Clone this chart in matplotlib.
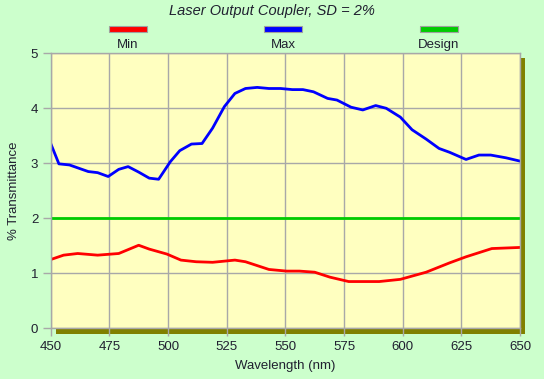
import matplotlib.pyplot as plt
from matplotlib.patches import Rectangle

# --- Data ---
max_wl = [450, 453.5, 458, 466, 470, 474.5, 479, 483, 487.5, 492, 496, 501, 505, 510,
          514.5, 519, 524, 528.5, 533, 538, 543, 548, 553, 557.5, 562, 568, 572, 578,
          583, 588.5, 593, 599, 604, 610, 615.5, 620, 627, 632.5, 637.5, 644, 650]
max_t = [3.36, 2.99, 2.97, 2.85, 2.83, 2.76, 2.89, 2.94, 2.84, 2.73, 2.71, 3.03, 3.23, 3.35,
         3.36, 3.64, 4.03, 4.27, 4.36, 4.38, 4.36, 4.36, 4.34, 4.34, 4.30, 4.18, 4.15, 4.02,
         3.97, 4.05, 4.00, 3.84, 3.61, 3.44, 3.27, 3.20, 3.07, 3.15, 3.15, 3.10, 3.04]

min_wl = [450, 455.5, 461.5, 470, 479, 487.5, 492, 499.5, 505.5, 512, 519, 528.5, 533,
          543, 550.5, 556, 562.5, 569, 577, 590, 599, 610, 620, 627, 638, 650]
min_t = [1.25, 1.33, 1.36, 1.33, 1.36, 1.51, 1.44, 1.35, 1.24, 1.21, 1.20, 1.24, 1.21,
         1.07, 1.04, 1.04, 1.02, 0.93, 0.85, 0.85, 0.89, 1.02, 1.19, 1.30, 1.45, 1.47]

design_wl = [450, 650]
design_t = [2.0, 2.0]

x_ticks = [450, 475, 500, 525, 550, 575, 600, 625, 650]
y_ticks = [0, 1, 2, 3, 4, 5]

series = [("Min", "#ff0000"), ("Max", "#0000ff"), ("Design", "#00cc00")]

# --- Figure setup ---
W, H = 544, 379
BG = "#ccffcc"
PLOT_BG = "#ffffc0"
GRID = "#a8a8a8"
TXT = "#202030"
plt.rcParams['font.family'] = ['Liberation Sans', 'DejaVu Sans']

fig = plt.figure(figsize=(W / 100, H / 100), dpi=100, facecolor=BG)

def px(x, y):
    # pixel coords (top-left origin) -> figure fraction
    return x / W, 1 - y / H

left, top = px(50.7, 53.3)
right, bottom = px(520.0, 328.3)
ax = fig.add_axes([left, bottom, right - left, top - bottom], facecolor=PLOT_BG)

# drop shadow behind the plot area
sx0, sy0 = px(55.5, 333.5)
sx1, sy1 = px(524.5, 58.0)
fig.add_artist(Rectangle((sx0, sy0), sx1 - sx0, sy1 - sy0, transform=fig.transFigure,
                         facecolor="#808000", edgecolor="none", zorder=-1))

ax.plot(min_wl, min_t, color="#ff0000", lw=2.0, solid_joinstyle="round")
ax.plot(max_wl, max_t, color="#0000ff", lw=2.0, solid_joinstyle="round")
ax.plot(design_wl, design_t, color="#00cc00", lw=2.0)

ax.set_xlim(450, 650)
ax.set_ylim(0, 5)
ax.set_xticks(x_ticks)
ax.set_yticks(y_ticks)
ax.grid(True, color=GRID, lw=1)
ax.set_axisbelow(True)
for s in ax.spines.values():
    s.set_color(GRID)
    s.set_linewidth(1)
ax.tick_params(length=6, width=1, color=GRID, labelsize=9.5, labelcolor=TXT, pad=3)

ax.set_xlabel("Wavelength (nm)", fontsize=9.5, color=TXT, labelpad=5)
ax.set_ylabel("% Transmittance", fontsize=9.5, color=TXT, labelpad=8)

# title
tx, ty = px(272, 11)
fig.text(tx, ty, "Laser Output Coupler, SD = 2%", ha="center", va="center",
         fontsize=10.5, style="italic", color=TXT)

# legend: colored swatch above each label
centers = [128, 283, 439]
for (name, color), cx in zip(series, centers):
    rx, ry = px(cx - 19, 32)
    rw, rh = 38 / W, 6 / H
    fig.add_artist(Rectangle((rx, ry), rw, rh, transform=fig.transFigure,
                             facecolor=color, edgecolor="#a0a0a0", lw=0.8))
    lx, ly = px(cx, 45)
    fig.text(lx, ly, name, ha="center", va="center", fontsize=9.5, color=TXT)

fig.savefig("out.png", dpi=100, facecolor=BG)
